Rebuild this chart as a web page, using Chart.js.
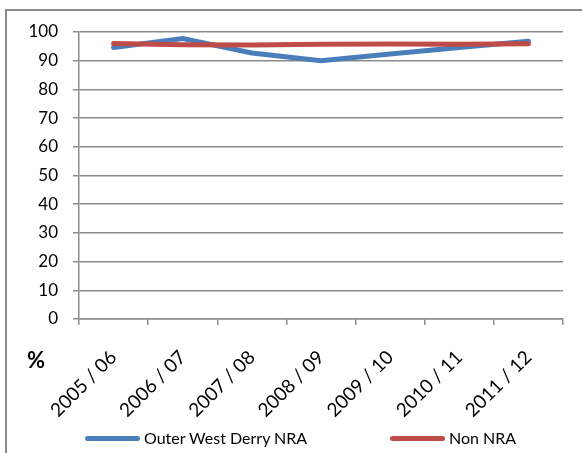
<!DOCTYPE html>
<html lang="en">
<head>
    <meta charset="UTF-8">
    <title>Outer West Derry NRA vs Non NRA</title>
    <script src="https://cdn.jsdelivr.net/npm/chart.js"></script>
    <style>
        body {
            margin: 0;
            font-family: Lato, sans-serif;
            background: #fff;
        }
        #wrap {
            position: relative;
            width: 582px;
            height: 453px;
            overflow: hidden;
        }
        #frame {
            position: absolute;
            left: 5px;
            top: 9px;
            width: 620px;
            height: 480px;
            border: 2px solid #8a8a8a;
        }
        canvas {
            position: absolute;
            left: 0;
            top: 0;
        }
        #pct {
            position: absolute;
            left: 27px;
            top: 346px;
            font-weight: bold;
            font-size: 22px;
            color: #000;
        }
        .key {
            position: absolute;
            top: 428px;
            font-size: 16px;
            color: #000;
            white-space: nowrap;
        }
        .key span {
            display: inline-block;
            width: 55px;
            height: 5px;
            border-radius: 3px;
            vertical-align: middle;
            margin-right: 4px;
            position: relative;
            top: -1px;
        }
    </style>
</head>
<body>
<div id="wrap">
    <div id="frame"></div>
    <canvas id="chart" width="582" height="453"></canvas>
    <div id="pct">%</div>
    <div class="key" style="left:85px"><span style="background:#4a7ebb"></span>Outer West Derry NRA</div>
    <div class="key" style="left:390px"><span style="background:#be4b48"></span>Non NRA</div>
</div>

<script>
    // data
    const years = ["2005 / 06", "2006 / 07", "2007 / 08", "2008 / 09", "2009 / 10", "2010 / 11", "2011 / 12"];
    const outerWestDerry = [94.6, 97.7, 92.7, 90.0, 92.3, 94.6, 96.8];
    const nonNra = [96.0, 95.6, 95.5, 95.7, 95.8, 95.7, 95.9];

    const axisGrey = '#8c8c8c';

    new Chart(document.getElementById('chart'), {
        type: 'line',
        data: {
            labels: years,
            datasets: [
                {
                    label: 'Outer West Derry NRA',
                    data: outerWestDerry,
                    borderColor: '#4a7ebb',
                    borderWidth: 5,
                    borderCapStyle: 'round',
                    pointRadius: 0,
                    tension: 0,
                    order: 1
                },
                {
                    label: 'Non NRA',
                    data: nonNra,
                    borderColor: '#be4b48',
                    borderWidth: 5,
                    borderCapStyle: 'round',
                    pointRadius: 0,
                    tension: 0,
                    order: 0
                }
            ]
        },
        options: {
            responsive: false,
            animation: false,
            layout: { padding: { top: 32, right: 19, left: 0, bottom: 0 } },
            plugins: {
                legend: { display: false },
                tooltip: { enabled: false }
            },
            scales: {
                x: {
                    offset: true,
                    afterFit: s => { s.height = 134; },
                    grid: {
                        offset: true,
                        drawOnChartArea: false,
                        tickLength: 6,
                        color: axisGrey,
                        lineWidth: 1.5
                    },
                    border: { color: axisGrey, width: 1.5 },
                    ticks: {
                        maxRotation: 45,
                        minRotation: 45,
                        padding: 21,
                        color: '#000',
                        font: { family: 'Lato', size: 19 }
                    }
                },
                y: {
                    min: 0,
                    max: 100,
                    afterFit: s => { s.width = 79; },
                    grid: {
                        tickLength: 6,
                        color: axisGrey,
                        lineWidth: 1.5
                    },
                    border: { color: axisGrey, width: 1.5 },
                    ticks: {
                        stepSize: 10,
                        padding: 15,
                        color: '#000',
                        font: { family: 'Lato', size: 17 }
                    }
                }
            }
        }
    });
</script>
</body>
</html>
